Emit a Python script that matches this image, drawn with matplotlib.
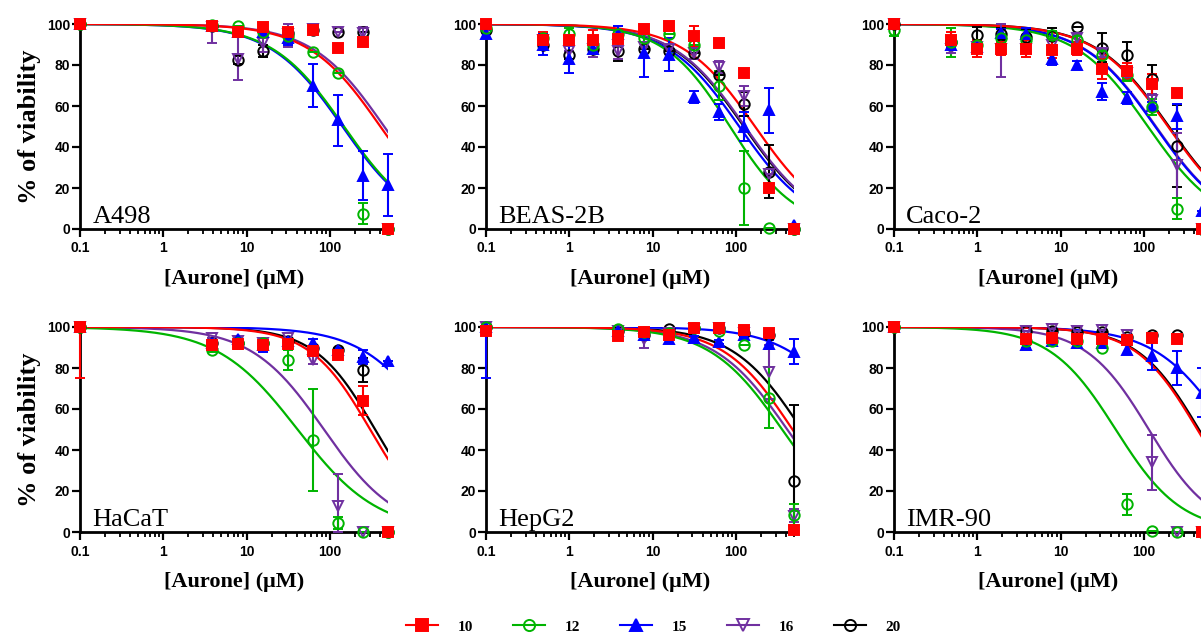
import numpy as np
import matplotlib
matplotlib.use('Agg')
import matplotlib.pyplot as plt
from matplotlib.lines import Line2D
from matplotlib.ticker import FixedLocator, FixedFormatter, LogLocator, NullFormatter

# compounds and styles
compounds = ['10', '12', '15', '16', '20']
colors = ['#ff0000', '#00b400', '#0000ff', '#7030a0', '#000000']
markers = ['s', 'o', '^', 'v', 'o']
filled = [True, False, True, False, False]

# doses (uM), 0.1 = control
dose_short = [0.1, 3.9, 7.8, 15.6, 31.25, 62.5, 125, 250, 500]
dose_long = [0.1, 0.49, 0.98, 1.95, 3.9, 7.8, 15.6, 31.25, 62.5, 125, 250, 500]

# A498
a498_mean = [[100, 99, 96, 98.5, 96, 97, 88.5, 91, 0],
             [100, 99.5, 99, 96, 94, 86.5, 76, 7.5, 0],
             [100, 99, 96, 96, 93, 70, 53, 26, 21.5],
             [100, 98.5, 83, 90.5, 95, 97.5, 96, 95.5, 0],
             [100, 99, 82.5, 87, 95.5, 97, 96, 96, 0]]
a498_sd = [[0, 0, 0, 1, 1, 1, 0, 0, 0],
           [0, 0, 0, 0, 0, 0, 0, 5, 0],
           [0, 0, 0, 2, 3, 10.5, 12.5, 12, 15],
           [0, 8, 10.5, 4, 6, 0, 0, 3, 0],
           [0, 0, 2, 3, 0, 0, 0, 0, 0]]
a498_ic50 = [405, 148, 142, 450, None]
a498_hill = [1, 1, 1, 1, 1]

# BEAS-2B
beas_mean = [[100, 92, 92, 92, 92.5, 97.5, 99, 94, 90.5, 76, 20, 0],
             [98, 93, 95, 90, 95, 93, 95, 90, 70, 20, 0.5, 0],
             [95, 90, 83, 88, 95, 86, 85, 64.5, 57, 50, 58, 2],
             [97, 92, 87, 88, 87, 89, 88, 86, 79, 65, 27, 0],
             [97, 90, 85, 88, 87, 88, 87, 86, 75, 61, 28, 0]]
beas_sd = [[0, 4, 0, 5, 0, 0, 0, 5, 0, 0, 0, 0],
           [0, 0, 3, 0, 0, 2, 0, 0, 7, 18, 0, 0],
           [2, 5, 7, 0, 4, 12, 8, 3, 4, 7, 11, 0],
           [0, 3, 0, 4, 4, 0, 0, 3, 3, 5, 0, 0],
           [4, 2, 2, 2, 5, 0, 0, 0, 0, 6, 13, 0]]
beas_ic50 = [170, 85, 110, 129, 125]
beas_hill = [1, 1.1, 1, 1, 1]

# Caco-2
caco_mean = [[100, 92, 88, 88, 88, 87.5, 88, 78, 77, 70.5, 66.5, 0],
             [97, 91, 90, 93, 92, 94.5, 92, 85, 75, 59.5, 10, 0],
             [100, 90, 89, 95.5, 95, 83, 80, 67, 64, 60, 55, 9],
             [100, 88, 89, 88, 88, 90, 93, 86, 76, 63, 31, 0],
             [100, 91, 94.5, 95, 93.5, 94, 98.5, 88.5, 85, 73, 40.5, 0]]
caco_sd = [[0, 4, 4, 3, 4, 4, 3, 5, 4, 5, 0, 0],
           [3, 7, 2, 2, 2, 2, 2, 2, 3, 4, 5, 0],
           [0, 2, 2, 2, 3, 3, 2, 4, 3, 2, 6, 0],
           [0, 2, 2, 14, 2, 2, 2, 2, 2, 3, 16, 0],
           [0, 2, 4, 3, 4, 4, 0, 7, 6, 7, 20, 0]]
caco_ic50 = [195, 112, 137, 140, 200]
caco_hill = [1, 1, 1, 1, 1]

# HaCaT
hacat_mean = [[100, 91, 91.5, 91, 91.5, 88.5, 86.5, 64, 0],
              [100, 89, 92, 92, 84, 45, 4.5, 0, 0],
              [100, 92, 94, 91, 93, 92, 89, 85.5, 83.5],
              [100, 94.5, 93, 92, 94.5, 84, 12.5, 0, 0],
              [100, 92, 92, 92, 93, 90, 89, 79, 0]]
hacat_sd = [[25, 2, 2, 2, 2, 2, 0, 7, 0],
            [0, 1, 0, 0, 5, 25, 3, 0, 0],
            [0, 0, 1, 3, 1, 2, 1, 3.5, 0],
            [0, 0, 0, 0, 0, 2, 16, 0, 0],
            [0, 0, 0, 0, 0, 0, 0, 6, 0]]
hacat_ic50 = [305, 41, 1940, 85, 350]
hacat_hill = [1.2, 0.9, 1, 1, 1.2]

# HepG2
hepg2_mean = [[98, 95.5, 97.5, 96, 99.5, 99.5, 98.5, 97, 1],
              [100, 99, 97.5, 97, 99.5, 98, 91, 65.5, 8.5],
              [100, 98, 96, 94, 94.5, 92.5, 96, 91.5, 88],
              [100, 98, 94, 97, 99, 99.5, 97, 78, 8],
              [100, 98, 96, 99, 99.5, 99.5, 97, 96, 25]]
hepg2_sd = [[0, 1, 1, 1, 1, 1, 1, 2, 0],
            [0, 0, 0, 0, 0, 0, 0, 15, 5],
            [25, 0, 1, 2, 1, 1, 1, 2, 6],
            [0, 0, 4, 0, 0, 0, 0, 13, 3],
            [0, 0, 0, 0, 0, 0, 0, 0, 37]]
hepg2_ic50 = [480, 360, 3300, 415, 620]
hepg2_hill = [1.05, 1, 1, 1, 1.05]

# IMR-90
imr_mean = [[100, 94, 94.5, 94, 94, 93.5, 94.5, 94, 0],
            [100, 93, 93, 93, 90, 13.5, 0.5, 0, 0],
            [100, 91, 93, 92, 92, 89, 86, 80, 68],
            [100, 98, 99, 98, 98.5, 96, 34, 0, 0],
            [100, 98, 98, 97.5, 97.5, 95, 96, 96, 0]]
imr_sd = [[0, 1, 1, 1, 1, 1, 0, 0, 0],
          [0, 0, 0, 0, 0, 5, 0, 0, 0],
          [0, 1, 1, 2, 1, 2, 7, 8.5, 12],
          [0, 0, 0, 0, 0, 0, 13.5, 0, 0],
          [0, 0, 0, 0, 0, 0, 0, 0, 0]]
imr_ic50 = [440, 46, 1030, 115, 460]
imr_hill = [1.17, 1.1, 1, 1.15, 1.17]

panels = [('A498', dose_short, a498_mean, a498_sd, a498_ic50, a498_hill),
          ('BEAS-2B', dose_long, beas_mean, beas_sd, beas_ic50, beas_hill),
          ('Caco-2', dose_long, caco_mean, caco_sd, caco_ic50, caco_hill),
          ('HaCaT', dose_short, hacat_mean, hacat_sd, hacat_ic50, hacat_hill),
          ('HepG2', dose_short, hepg2_mean, hepg2_sd, hepg2_ic50, hepg2_hill),
          ('IMR-90', dose_short, imr_mean, imr_sd, imr_ic50, imr_hill)]

serif = ['Liberation Serif', 'DejaVu Serif']
sans = ['Liberation Sans', 'DejaVu Sans']


def logistic(x, ic50, hill):
    return 100.0 / (1.0 + (x / ic50) ** hill)


W, H = 1201, 635
fig = plt.figure(figsize=(W / 100, H / 100), dpi=100)

lefts = [80, 486, 894]
tops = [24, 327]
ax_w, ax_h = 308, 205

xfit = np.logspace(-1, np.log10(500), 300)

for k, (name, dose, mean, sd, ic50, hill) in enumerate(panels):
    row, col = divmod(k, 3)
    ax = fig.add_axes([lefts[col] / W, (H - tops[row] - ax_h) / H, ax_w / W, ax_h / H])
    for i in reversed(range(5)):
        c = colors[i]
        if ic50[i] is not None:
            ax.plot(xfit, logistic(xfit, ic50[i], hill[i]), color=c, lw=1.6, zorder=2)
        m = np.array(mean[i], dtype=float)
        e = np.array(sd[i], dtype=float)
        # error bars stop at the axis limits (0 and 100)
        yerr = [np.minimum(e, m), np.minimum(e, 100 - m)]
        ax.errorbar(dose, m, yerr=yerr, fmt=markers[i], color=c,
                    mfc=c if filled[i] else 'none', mec=c, mew=1.4, ms=7.5,
                    elinewidth=1.5, capsize=3.5, capthick=1.5,
                    clip_on=False, zorder=3)
    ax.set_xscale('log')
    ax.set_xlim(0.1, 500)
    ax.set_ylim(0, 100)
    ax.spines['top'].set_visible(False)
    ax.spines['right'].set_visible(False)
    for s in ['left', 'bottom']:
        ax.spines[s].set_linewidth(2)
    ax.xaxis.set_major_locator(FixedLocator([0.1, 1, 10, 100]))
    ax.xaxis.set_major_formatter(FixedFormatter(['0.1', '1', '10', '100']))
    ax.xaxis.set_minor_locator(LogLocator(base=10, subs=np.arange(2, 10)))
    ax.xaxis.set_minor_formatter(NullFormatter())
    ax.set_yticks([0, 20, 40, 60, 80, 100])
    ax.tick_params(axis='both', which='major', direction='out', length=6, width=1.6,
                   labelsize=10)
    ax.tick_params(axis='y', which='major', pad=1)
    ax.tick_params(axis='x', which='major', pad=3)
    ax.tick_params(axis='x', which='minor', direction='out', length=3.5, width=1.3)
    for lab in ax.get_xticklabels() + ax.get_yticklabels():
        lab.set_fontfamily(sans)
        lab.set_fontweight('bold')
    ax.set_xlabel('[Aurone] (μM)', family=serif, fontsize=16, fontweight='bold', labelpad=10)
    if col == 0:
        ax.set_ylabel('% of viability', family=serif, fontsize=19, fontweight='bold', labelpad=4)
    ax.text(0.04, 0.03, name, transform=ax.transAxes, family=serif, fontsize=19,
            va='baseline', ha='left')

handles = []
for i in range(5):
    handles.append(Line2D([], [], color=colors[i], marker=markers[i], lw=1.5, ms=8,
                          mfc=colors[i] if filled[i] else 'none', mec=colors[i], mew=1.4))
fig.legend(handles, compounds, loc='center', bbox_to_anchor=(0.544, 0.0126), ncol=5,
           frameon=False, handlelength=2.1, handletextpad=1.3, columnspacing=2.6,
           prop={'family': serif, 'weight': 'bold', 'size': 11})

fig.savefig('out.png', dpi=100)
